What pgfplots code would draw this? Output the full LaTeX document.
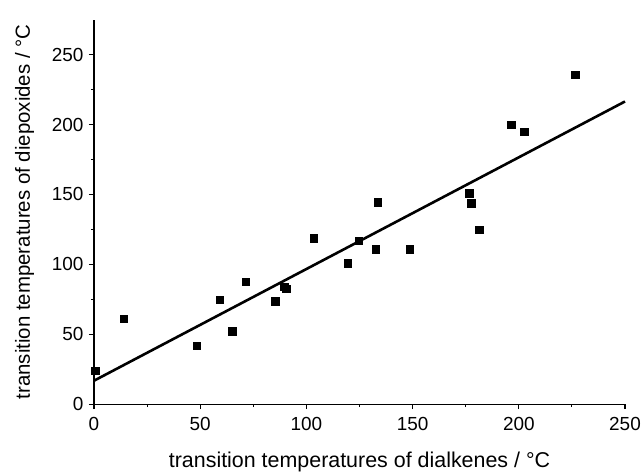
\documentclass[border=0pt]{standalone}
\usepackage{fontspec}
\setmainfont{Liberation Sans}
\usepackage{pgfplots}
\pgfplotsset{compat=1.18}
\begin{document}
\begin{tikzpicture}
\begin{axis}[
  name=ax,
  scale only axis,
  width=531bp, height=384.5bp,
  xmin=0, xmax=250, ymin=0, ymax=275,
  axis lines=left,
  axis line style={-, line width=1.3bp},
  every tick/.style={line width=1.1bp, black},
  tick align=outside,
  xtick={0,50,...,250}, ytick={0,50,...,250},
  minor xtick={25,75,...,225}, minor ytick={25,75,...,225},
  major tick length=5bp, minor tick length=3bp,
  tick label style={font=\fontsize{19}{22}\selectfont},
  xticklabel style={yshift=-5bp},
  yticklabel style={xshift=-2bp},
  /pgf/number format/assume math mode=true,
  label style={font=\fontsize{21.5}{25}\selectfont},
  ylabel style={font=\fontsize{20.5}{24}\selectfont},
  xlabel={transition temperatures of dialkenes / °C},
  ylabel={transition temperatures of diepoxides / °C},
  xlabel shift=14bp,
  ylabel shift=11bp,
  clip=false,
]
\addplot[only marks, mark=square*, mark size=3.7bp, black] coordinates {
 (0.5,24) (14.1,61) (48.4,41.9) (59.3,74.8) (65.1,52.1) (71.4,87.6)
 (85.4,73.8) (89.5,84.1) (90.4,82.6) (103.4,118.7) (119.4,100.8)
 (124.6,117) (132.5,110.8) (133.6,144.6) (148.5,110.8) (176.6,150.9)
 (177.5,143.7) (181.4,124.8) (196.5,199.7) (202.6,194.7) (226.6,235.5)
};
\addplot[black, line width=2.6bp, no marks] coordinates {(0,16.8) (250,216.5)};
\end{axis}
\pgfresetboundingbox
\path (ax.south west) ++(-94bp,-68.8bp) rectangle ++(644bp,473bp);
\end{tikzpicture}
\end{document}
